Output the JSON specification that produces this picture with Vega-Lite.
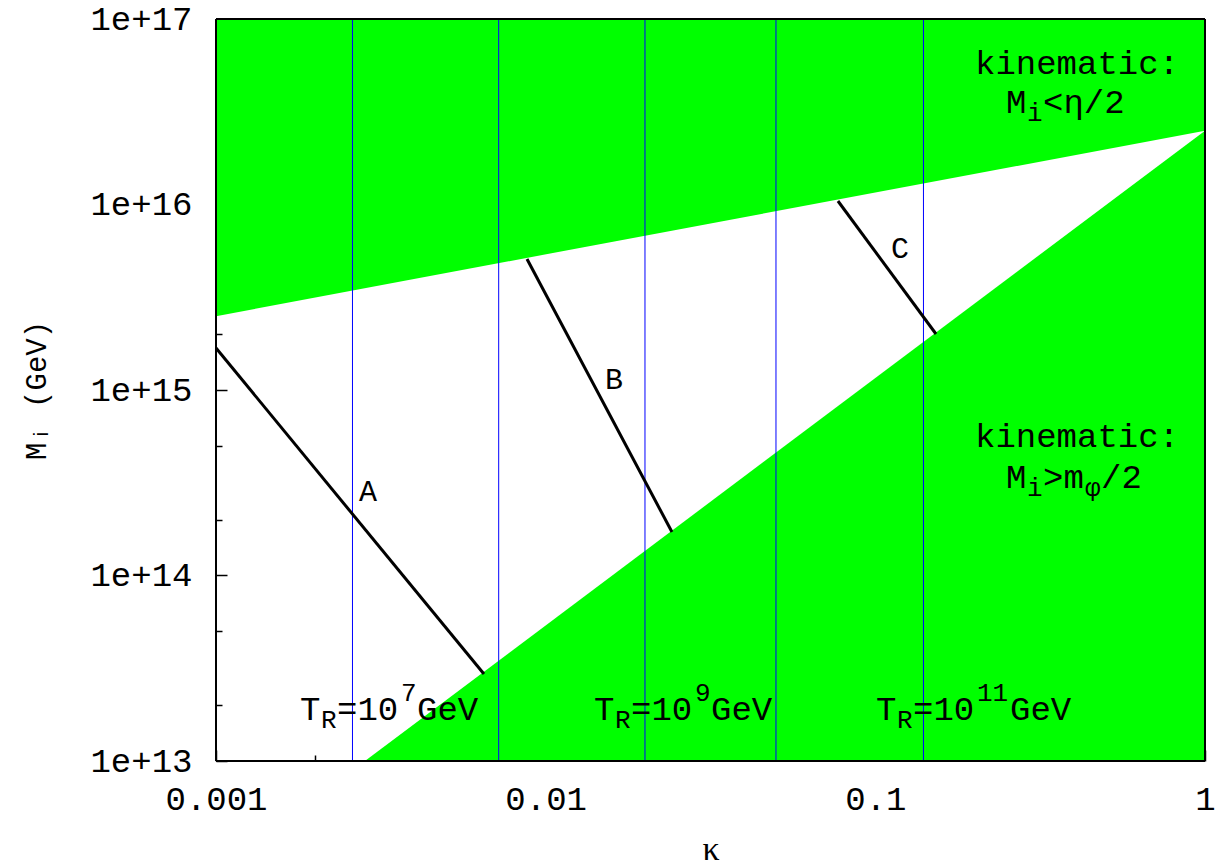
{
  "$schema": "https://vega.github.io/schema/vega-lite/v6.json",
  "width": 989,
  "height": 742,
  "autosize": {"type": "none"},
  "padding": {"left": 216, "top": 19, "right": 11, "bottom": 107},
  "background": "white",
  "config": {
    "view": {"stroke": null},
    "font": "Liberation Mono",
    "axis": {
      "domain": false,
      "grid": false,
      "labelFont": "Liberation Mono",
      "labelFontSize": 34,
      "labelColor": "black",
      "tickColor": "black",
      "tickWidth": 1.5,
      "titleFont": "Liberation Mono",
      "titleFontWeight": "normal",
      "titleColor": "black"
    }
  },
  "datasets": {
    "upper": [
      {"k": 0.001, "lo": 2.5e15, "hi": 1e17},
      {"k": 1, "lo": 2.5e16, "hi": 1e17}
    ],
    "lower": [
      {"k": 0.00283, "lo": 1e13, "hi": 1e13},
      {"k": 1, "lo": 1e13, "hi": 2.5e16}
    ],
    "blue": [
      {"k": 0.002594},
      {"k": 0.007203},
      {"k": 0.02001},
      {"k": 0.04996},
      {"k": 0.13996}
    ],
    "curves": [
      {"c": "A", "k": 0.001, "m": 1.684e15},
      {"c": "A", "k": 0.006499, "m": 2.944e13},
      {"c": "B", "k": 0.008778, "m": 5.084e15},
      {"c": "B", "k": 0.02416, "m": 1.716e14},
      {"c": "C", "k": 0.07702, "m": 1.0445e16},
      {"c": "C", "k": 0.15276, "m": 2.004e15}
    ],
    "letters": [
      {"k": 0.002891, "m": 2.819e14, "t": "A"},
      {"k": 0.01612, "m": 1.132e15, "t": "B"},
      {"k": 0.1188, "m": 5.756e15, "t": "C"}
    ],
    "txt": [
      {"k": 0.2006, "m": 5.72e16, "t": "kinematic:", "role": "main"},
      {"k": 0.249, "m": 3.526e16, "t": "M", "role": "main"},
      {"k": 0.2885, "m": 3.526e16, "t": "i", "role": "sub"},
      {"k": 0.3226, "m": 3.526e16, "t": "<η/2", "role": "main"},
      {"k": 0.2006, "m": 5.58e14, "t": "kinematic:", "role": "main"},
      {"k": 0.249, "m": 3.355e14, "t": "M", "role": "main"},
      {"k": 0.2885, "m": 3.355e14, "t": "i", "role": "sub"},
      {"k": 0.3226, "m": 3.355e14, "t": ">m", "role": "main"},
      {"k": 0.4325, "m": 3.355e14, "t": "φ", "role": "sub"},
      {"k": 0.4836, "m": 3.355e14, "t": "/2", "role": "main"},
      {"k": 0.001798, "m": 1.883e13, "t": "T", "role": "main"},
      {"k": 0.002082, "m": 1.883e13, "t": "R", "role": "sub"},
      {"k": 0.002328, "m": 1.883e13, "t": "=10", "role": "main"},
      {"k": 0.00364, "m": 1.883e13, "t": "7", "role": "sup"},
      {"k": 0.004071, "m": 1.883e13, "t": "GeV", "role": "main"},
      {"k": 0.01402, "m": 1.883e13, "t": "T", "role": "main"},
      {"k": 0.01623, "m": 1.883e13, "t": "R", "role": "sub"},
      {"k": 0.01815, "m": 1.883e13, "t": "=10", "role": "main"},
      {"k": 0.02838, "m": 1.883e13, "t": "9", "role": "sup"},
      {"k": 0.03173, "m": 1.883e13, "t": "GeV", "role": "main"},
      {"k": 0.10046, "m": 1.883e13, "t": "T", "role": "main"},
      {"k": 0.11634, "m": 1.883e13, "t": "R", "role": "sub"},
      {"k": 0.13013, "m": 1.883e13, "t": "=10", "role": "main"},
      {"k": 0.2034, "m": 1.883e13, "t": "11", "role": "sup"},
      {"k": 0.2562, "m": 1.883e13, "t": "GeV", "role": "main"}
    ],
    "frameH": [{"m": 1e13}, {"m": 1e17}],
    "frameV": [{"k": 0.001}, {"k": 1}]
  },
  "layer": [
    {
      "data": {"name": "upper"},
      "mark": {"type": "area", "color": "#00ff00", "opacity": 1},
      "encoding": {
        "x": {
          "field": "k", "type": "quantitative",
          "scale": {"type": "log", "domain": [0.001, 1], "nice": false},
          "axis": {
            "orient": "bottom",
            "values": [0.001, 0.01, 0.1, 1],
            "labelExpr": "datum.value >= 1 ? '1' : format(datum.value, '')",
            "tickSize": -11,
            "labelPadding": 32,
            "labelFlush": false,
            "labelOverlap": false,
            "title": "κ",
            "titleFont": "Liberation Serif",
            "titleFontSize": 34,
            "titlePadding": 16
          }
        },
        "y": {
          "field": "lo", "type": "quantitative",
          "scale": {"type": "log", "domain": [1e13, 1e17], "nice": false},
          "axis": {
            "orient": "left",
            "values": [1e13, 1e14, 1e15, 1e16, 1e17],
            "labelExpr": "'1e+' + format(log(datum.value)/LN10, '.0f')",
            "tickSize": -11,
            "labelPadding": 35,
            "labelFlush": false,
            "labelOverlap": false,
            "title": "Mᵢ  (GeV)",
            "titleFontSize": 29,
            "titlePadding": 38
          }
        },
        "y2": {"field": "hi"}
      }
    },
    {
      "data": {"name": "lower"},
      "mark": {"type": "area", "color": "#00ff00", "opacity": 1},
      "encoding": {
        "x": {
          "field": "k", "type": "quantitative",
          "scale": {"type": "log", "domain": [0.001, 1], "nice": false},
          "axis": {
            "orient": "bottom",
            "values": [0.002, 0.005, 0.02, 0.05, 0.2, 0.5],
            "tickSize": -6,
            "labels": false,
            "title": null
          }
        },
        "y": {
          "field": "hi", "type": "quantitative",
          "scale": {"type": "log", "domain": [1e13, 1e17], "nice": false},
          "axis": {
            "orient": "left",
            "values": [2e13, 5e13, 2e14, 5e14, 2e15, 5e15, 2e16, 5e16],
            "tickSize": -6,
            "labels": false,
            "title": null
          }
        },
        "y2": {"field": "lo"}
      }
    },
    {
      "data": {"name": "blue"},
      "mark": {"type": "rule", "color": "#0000ff", "strokeWidth": 1},
      "encoding": {
        "x": {"field": "k", "type": "quantitative", "scale": {"type": "log", "domain": [0.001, 1], "nice": false}, "axis": null}
      }
    },
    {
      "data": {"name": "curves"},
      "mark": {"type": "line", "color": "black", "strokeWidth": 3},
      "encoding": {
        "x": {"field": "k", "type": "quantitative", "scale": {"type": "log", "domain": [0.001, 1], "nice": false}, "axis": null},
        "y": {"field": "m", "type": "quantitative", "scale": {"type": "log", "domain": [1e13, 1e17], "nice": false}, "axis": null},
        "detail": {"field": "c"}
      }
    },
    {
      "data": {"name": "letters"},
      "mark": {"type": "text", "font": "Liberation Mono", "fontSize": 30, "align": "center", "baseline": "middle", "color": "black"},
      "encoding": {
        "x": {"field": "k", "type": "quantitative", "scale": {"type": "log", "domain": [0.001, 1], "nice": false}, "axis": null},
        "y": {"field": "m", "type": "quantitative", "scale": {"type": "log", "domain": [1e13, 1e17], "nice": false}, "axis": null},
        "text": {"field": "t"}
      }
    },
    {
      "data": {"name": "txt"},
      "transform": [{"filter": "datum.role == 'main'"}],
      "mark": {"type": "text", "font": "Liberation Mono", "fontSize": 34, "align": "left", "baseline": "middle", "color": "black"},
      "encoding": {
        "x": {"field": "k", "type": "quantitative", "scale": {"type": "log", "domain": [0.001, 1], "nice": false}, "axis": null},
        "y": {"field": "m", "type": "quantitative", "scale": {"type": "log", "domain": [1e13, 1e17], "nice": false}, "axis": null},
        "text": {"field": "t"}
      }
    },
    {
      "data": {"name": "txt"},
      "transform": [{"filter": "datum.role == 'sub'"}],
      "mark": {"type": "text", "font": "Liberation Mono", "fontSize": 26, "align": "left", "baseline": "middle", "color": "black", "dy": 10},
      "encoding": {
        "x": {"field": "k", "type": "quantitative", "scale": {"type": "log", "domain": [0.001, 1], "nice": false}, "axis": null},
        "y": {"field": "m", "type": "quantitative", "scale": {"type": "log", "domain": [1e13, 1e17], "nice": false}, "axis": null},
        "text": {"field": "t"}
      }
    },
    {
      "data": {"name": "txt"},
      "transform": [{"filter": "datum.role == 'sup'"}],
      "mark": {"type": "text", "font": "Liberation Mono", "fontSize": 26, "align": "left", "baseline": "middle", "color": "black", "dy": -17},
      "encoding": {
        "x": {"field": "k", "type": "quantitative", "scale": {"type": "log", "domain": [0.001, 1], "nice": false}, "axis": null},
        "y": {"field": "m", "type": "quantitative", "scale": {"type": "log", "domain": [1e13, 1e17], "nice": false}, "axis": null},
        "text": {"field": "t"}
      }
    },
    {
      "data": {"name": "frameH"},
      "mark": {"type": "rule", "color": "black", "strokeWidth": 2},
      "encoding": {
        "y": {"field": "m", "type": "quantitative", "scale": {"type": "log", "domain": [1e13, 1e17], "nice": false}, "axis": null}
      }
    },
    {
      "data": {"name": "frameV"},
      "mark": {"type": "rule", "color": "black", "strokeWidth": 2},
      "encoding": {
        "x": {"field": "k", "type": "quantitative", "scale": {"type": "log", "domain": [0.001, 1], "nice": false}, "axis": null}
      }
    }
  ],
  "resolve": {"axis": {"x": "independent", "y": "independent"}}
}
